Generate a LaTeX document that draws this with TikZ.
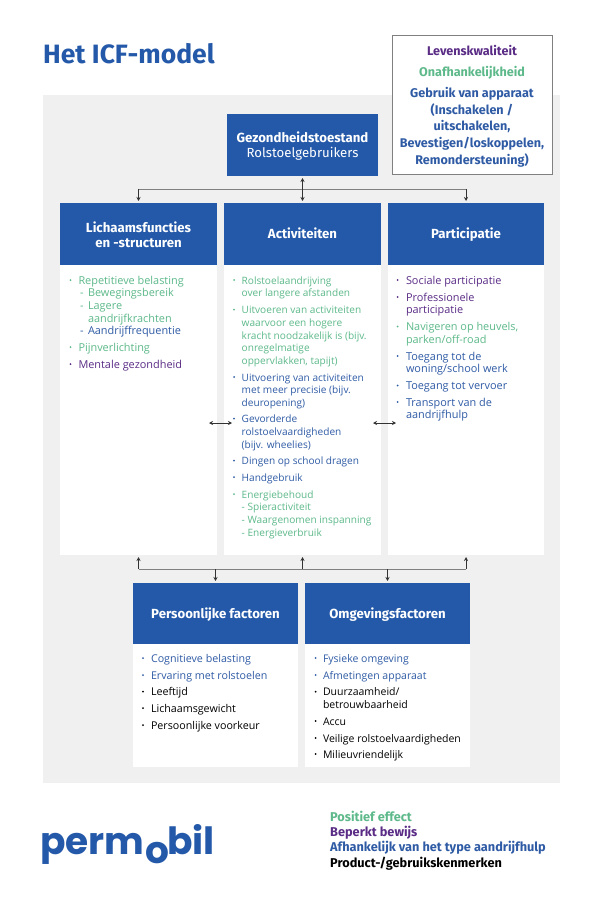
\documentclass[tikz,border=0pt]{standalone}
\usepackage{fontspec}
\setmainfont{Open Sans}
\newfontfamily\headfont{Fira Sans}
\newfontfamily\logofont{Poppins}
\usetikzlibrary{arrows.meta}
\definecolor{pmblue}{HTML}{2459A9}
\definecolor{txblue}{HTML}{2F5BA5}
\definecolor{txgreen}{HTML}{5DB98A}
\definecolor{txpurple}{HTML}{5A2C86}
\definecolor{pggrey}{HTML}{F0F0F0}
\definecolor{frame}{HTML}{808080}
\newcommand{\isize}{10.9}
\newcommand{\hstrut}{\rule{0pt}{12.5pt}}
\newcommand{\sstrut}{\rule[-3pt]{0pt}{15pt}}
\tikzset{
  hdr/.style={fill=pmblue,text=white,align=center,anchor=north west,inner sep=0pt,outer sep=0pt,font=\headfont\fontsize{13.2}{15}\selectfont},
  panel/.style={fill=white,anchor=north west,inner sep=0pt,outer sep=0pt},
  item/.style={anchor=north west,inner sep=0pt,outer sep=0pt,align=left,font=\fontsize{\isize}{12.6}\selectfont},
  marker/.style={anchor=north west,inner sep=0pt,outer sep=0pt,font=\fontsize{\isize}{12.6}\selectfont},
  sideinfo/.style={anchor=center,inner sep=0pt,align=center,font=\headfont\bfseries\fontsize{12.6}{16.7}\selectfont},
  legend/.style={anchor=base west,inner sep=0pt,font=\headfont\bfseries\fontsize{12.75}{15}\selectfont},
  logotext/.style={anchor=base west,inner sep=0pt,text=pmblue,font=\logofont\bfseries\fontsize{37.5}{40}\selectfont},
  bus/.style={draw=frame,line width=0.8pt},
  link/.style={draw=black!80,line width=0.7pt,{Stealth[length=4pt,width=4pt]}-{Stealth[length=4pt,width=4pt]}},
  linkto/.style={draw=black!80,line width=0.7pt,-{Stealth[length=4pt,width=4pt]}},
}
% name, x of bullet, x of text, y, colour, text
\newcommand{\bul}[6]{%
  \fill[#5] (#2,#4) circle (1pt);
  \node[item,text=#5] (#1) at (#3,{#4-5.3}) {\rule{0pt}{9.5pt}#6};}
\newcommand{\subb}[6]{%
  \node[marker,text=#5] (#1m) at (#2,{#4-5.3}) {\rule{0pt}{9.5pt}-};
  \node[item,text=#5] (#1) at (#3,{#4-5.3}) {\rule{0pt}{9.5pt}#6};}
\begin{document}
\begin{tikzpicture}[x=1pt,y=-1pt]
\useasboundingbox (0,0) rectangle (600,904);
\fill[white] (0,0) rectangle (600,904);
\fill[pggrey] (43,95) rectangle (560,783);
\node[anchor=base west,inner sep=0pt,text=pmblue,font=\headfont\bfseries\fontsize{26.5}{30}\selectfont] (title) at (43,64) {Het ICF-model};

% outcome box
\node[draw=frame,fill=white,line width=0.8pt,anchor=north west,inner sep=0pt,minimum width=160pt,minimum height=139pt] (outcome) at (392,35) {};
\node[sideinfo,text=txpurple] (quality) at (472,50.5) {Levenskwaliteit};
\node[sideinfo,text=txgreen] (indep) at (472,72.3) {Onafhankelijkheid};
\node[sideinfo,text=txblue,anchor=north] (deviceuse) at (472,87) {Gebruik van apparaat\\(Inschakelen /\\uitschakelen,\\Bevestigen/loskoppelen,\\Remondersteuning)};

% header boxes
\node[hdr,minimum width=151pt,minimum height=62pt] (health) at (227,114) {\hstrut\textbf{Gezondheidstoestand}\\Rolstoelgebruikers};
\node[panel,minimum width=157pt,minimum height=352pt] (pL) at (60,203) {};
\node[panel,minimum width=157pt,minimum height=352pt] (pA) at (224,203) {};
\node[panel,minimum width=156pt,minimum height=352pt] (pP) at (388,203) {};
\node[hdr,minimum width=157pt,minimum height=62pt] (body) at (60,203) {\hstrut\textbf{Lichaamsfuncties}\\\textbf{en -structuren}};
\node[hdr,minimum width=157pt,minimum height=62pt] (act) at (224,203) {\sstrut\textbf{Activiteiten}};
\node[hdr,minimum width=156pt,minimum height=62pt] (part) at (388,203) {\sstrut\textbf{Participatie}};
\node[panel,minimum width=165pt,minimum height=184pt] (pF) at (133,583) {};
\node[panel,minimum width=165pt,minimum height=184pt] (pE) at (305,583) {};
\node[hdr,minimum width=165pt,minimum height=61pt] (pers) at (133,583) {\sstrut\textbf{Persoonlijke factoren}};
\node[hdr,minimum width=165pt,minimum height=61pt] (env) at (305,583) {\sstrut\textbf{Omgevingsfactoren}};

% connectors
\coordinate (topbus) at (302,189);
\coordinate (lowbus) at (302,569);
\coordinate (midlevel) at (302,423);
\draw[bus] (topbus -| body.north) -- (topbus -| part.north);
\draw[linkto,shorten >=2pt] (topbus -| body.north) -- (body.north);
\draw[linkto,shorten >=2pt] (topbus -| part.north) -- (part.north);
\draw[link,shorten <=2pt,shorten >=2pt] (health.south) -- (act.north);
\draw[bus] (lowbus -| pL.south) -- (lowbus -| pP.south);
\draw[linkto,shorten >=2pt] (lowbus -| pL.south) -- (pL.south);
\draw[linkto,shorten >=2pt] (lowbus -| pA.south) -- (pA.south);
\draw[linkto,shorten >=2pt] (lowbus -| pP.south) -- (pP.south);
\draw[linkto,shorten >=2pt] (lowbus -| pers.north) -- (pers.north);
\draw[linkto,shorten >=2pt] (lowbus -| env.north) -- (env.north);
\draw[link,shorten <=-8pt,shorten >=-8pt] (midlevel -| pL.east) -- (midlevel -| pA.west);
\draw[link,shorten <=-8pt,shorten >=-8pt] (midlevel -| pA.east) -- (midlevel -| pP.west);

% left column
\bul{a1}{70.5}{78.5}{280}{txgreen}{Repetitieve belasting}
\subb{a2}{80}{88}{292.7}{txgreen}{Bewegingsbereik}
\subb{a3}{80}{88}{305.3}{txgreen}{Lagere\\aandrijfkrachten}
\subb{a4}{80}{88}{330.7}{txblue}{Aandrijffrequentie}
\bul{a5}{70.5}{78.5}{347}{txgreen}{Pijnverlichting}
\bul{a6}{70.5}{78.5}{364}{txpurple}{Mentale gezondheid}

% middle column
\renewcommand{\isize}{10.1}
\bul{b1}{234}{241.7}{280}{txgreen}{Rolstoelaandrijving\\over langere afstanden}
\bul{b2}{234}{241.7}{309.7}{txgreen}{Uitvoeren van activiteiten\\waarvoor een hogere\\kracht noodzakelijk is (bijv.\\onregelmatige\\oppervlakken, tapijt)}
\bul{b3}{234}{241.7}{377}{txblue}{Uitvoering van activiteiten\\met meer precisie (bijv.\\deuropening)}
\bul{b4}{234}{241.7}{418.7}{txblue}{Gevorderde\\rolstoelvaardigheden\\(bijv. wheelies)}
\bul{b5}{234}{241.7}{460.7}{txblue}{Dingen op school dragen}
\bul{b6}{234}{241.7}{477}{txblue}{Handgebruik}
\bul{b7}{234}{241.7}{494}{txgreen}{Energiebehoud\\- Spieractiviteit\\- Waargenomen inspanning\\- Energieverbruik}

% right column
\renewcommand{\isize}{10.9}
\bul{c1}{397.7}{406}{280}{txpurple}{Sociale participatie}
\bul{c2}{397.7}{406}{297}{txpurple}{Professionele\\participatie}
\bul{c3}{397.7}{406}{326.5}{txgreen}{Navigeren op heuvels,\\parken/off-road}
\bul{c4}{397.7}{406}{356}{txblue}{Toegang tot de\\woning/school werk}
\bul{c5}{397.7}{406}{385.5}{txblue}{Toegang tot vervoer}
\bul{c6}{397.7}{406}{402}{txblue}{Transport van de\\aandrijfhulp}

% personal factors
\renewcommand{\isize}{10.7}
\bul{d1}{143}{151}{658}{txblue}{Cognitieve belasting}
\bul{d2}{143}{151}{675}{txblue}{Ervaring met rolstoelen}
\bul{d3}{143}{151}{691.7}{black}{Leeftijd}
\bul{d4}{143}{151}{708}{black}{Lichaamsgewicht}
\bul{d5}{143}{151}{725}{black}{Persoonlijke voorkeur}

% environmental factors
\renewcommand{\isize}{10.5}
\bul{e1}{315.7}{323}{658}{txblue}{Fysieke omgeving}
\bul{e2}{315.7}{323}{675}{txblue}{Afmetingen apparaat}
\bul{e3}{315.7}{323}{691.7}{black}{Duurzaamheid/\\betrouwbaarheid}
\bul{e4}{315.7}{323}{721}{black}{Accu}
\bul{e5}{315.7}{323}{738}{black}{Veilige rolstoelvaardigheden}
\bul{e6}{315.7}{323}{754}{black}{Milieuvriendelijk}

% logo
\node[logotext] (logoA) at (40,854) {perm};
\node[logotext] (logoB) at (145,863.5) {o};
\node[logotext] (logoC) at (167,854) {bil};

% legend
\node[legend,text=txgreen] (l1) at (330,821) {Positief effect};
\node[legend,text=txpurple] (l2) at (330,836.5) {Beperkt bewijs};
\node[legend,text=txblue] (l3) at (330,851.5) {Afhankelijk van het type aandrijfhulp};
\node[legend,text=black] (l4) at (330,867) {Product-/gebruikskenmerken};
\end{tikzpicture}
\end{document}
